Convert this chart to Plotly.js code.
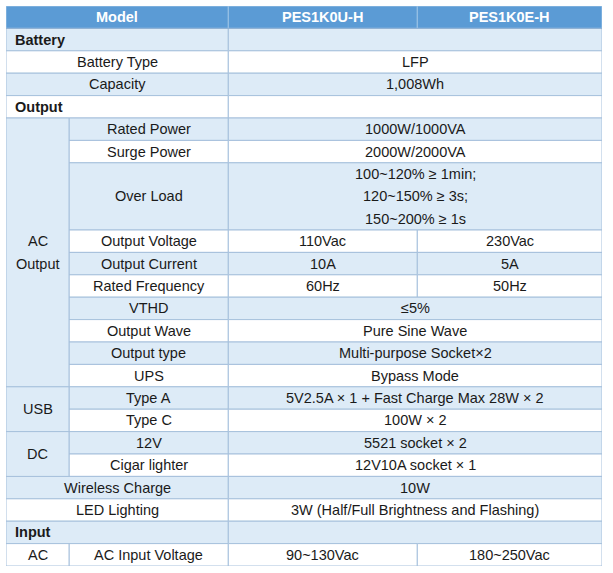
<!DOCTYPE html>
<html>
<head>
<meta charset="utf-8">
<script src="https://cdn.plot.ly/plotly-3.0.1.min.js"></script>
<style>html,body{margin:0;padding:0;background:#fff;}#chart{width:613px;height:573px;}</style>
</head>
<body>
<div id="chart"></div>
<script>
// ---- data ----
const headerLabels = ["Model", "PES1K0U-H", "PES1K0E-H"];
const itemLabels = ["Battery", "Battery Type", "Capacity", "Output", "Rated Power", "Surge Power", "Over Load",
  "Output Voltage", "Output Current", "Rated Frequency", "VTHD", "Output Wave", "Output type", "UPS",
  "Type A", "Type C", "12V", "Cigar lighter", "Wireless Charge", "LED Lighting", "Input", "AC Input Voltage"];
const sectionRows = ["Battery", "Output", "Input"];
const valuesU = ["", "LFP", "1,008Wh", "", "1000W/1000VA", "2000W/2000VA",
  "100~120% ≥ 1min;<br>120~150% ≥ 3s;<br>150~200% ≥ 1s",
  "110Vac", "10A", "60Hz", "≤5%", "Pure Sine Wave", "Multi-purpose Socket×2", "Bypass Mode",
  "5V2.5A × 1 + Fast Charge Max 28W × 2", "100W × 2", "5521 socket × 2", "12V10A socket × 1", "10W",
  "3W (Half/Full Brightness and Flashing)", "", "90~130Vac"];
const valuesE = ["", "LFP", "1,008Wh", "", "1000W/1000VA", "2000W/2000VA",
  "100~120% ≥ 1min;<br>120~150% ≥ 3s;<br>150~200% ≥ 1s",
  "230Vac", "5A", "50Hz", "≤5%", "Pure Sine Wave", "Multi-purpose Socket×2", "Bypass Mode",
  "5V2.5A × 1 + Fast Charge Max 28W × 2", "100W × 2", "5521 socket × 2", "12V10A socket × 1", "10W",
  "3W (Half/Full Brightness and Flashing)", "", "180~250Vac"];
const groupNames = ["AC<br>Output", "USB", "DC", "AC"];
const groupFirstRow = ["Rated Power", "Type A", "12V", "AC Input Voltage"];
const groupLastRow = ["UPS", "Type C", "Cigar lighter", "AC Input Voltage"];

// ---- layout constants (style) ----
const colEdges = [0, 63, 222.3, 411.3, 596];
const FONT = "Liberation Sans, Arial, sans-serif";
const FS = 14.5;
const headFill = "#5B9BD5", lightFill = "#DDEBF7", whiteFill = "#FFFFFF";
const border = "#A6C0DC", headSep = "#9DC3E6";
const txt = "#1a1a1a";

// ---- build ----
const shapes = [], annotations = [];
function cell(c0, c1, r0, r1, fill, lc) {
  shapes.push({type: "rect", xref: "x", yref: "y", x0: colEdges[c0], x1: colEdges[c1], y0: r0, y1: r1,
    fillcolor: fill, line: {color: lc || border, width: 1}, layer: "below"});
}
function text(t, x, y, opts) {
  opts = opts || {};
  annotations.push({text: t, x: x, y: y, xref: "x", yref: "y", showarrow: false,
    xanchor: opts.anchor || "center", yanchor: "middle",
    font: {family: FONT, size: FS, color: opts.color || txt, weight: opts.bold ? "bold" : "normal"}});
}
function multiline(t, xc, r0, r1, opts) {
  const lines = t.split("<br>");
  const mid = (r0 + r1) / 2;
  lines.forEach((ln, i) => text(ln, xc, mid + (i - (lines.length - 1) / 2), opts));
}
const mid = (a, b) => (colEdges[a] + colEdges[b]) / 2;

// header
cell(0, 2, 0, 1, headFill, headSep);
cell(2, 3, 0, 1, headFill, headSep);
cell(3, 4, 0, 1, headFill, headSep);
shapes.push({type: "line", xref: "x", yref: "y", x0: colEdges[0], x1: colEdges[4], y0: 1, y1: 1,
  line: {color: "#8FB0D3", width: 1}});
text(headerLabels[0], mid(0, 2), 0.5, {bold: true, color: "#fff"});
text(headerLabels[1], mid(2, 3), 0.5, {bold: true, color: "#fff"});
text(headerLabels[2], mid(3, 4), 0.5, {bold: true, color: "#fff"});

// rows
const rowStart = [];
let y = 1;
itemLabels.forEach((lab, i) => {
  const n = valuesU[i].split("<br>").length;
  rowStart.push(y);
  const fill = i % 2 === 0 ? lightFill : whiteFill;
  const r0 = y, r1 = y + n;
  const gi = groupFirstRow.findIndex(g => itemLabels.indexOf(g) <= i && itemLabels.indexOf(groupLastRow[groupFirstRow.indexOf(g)]) >= i);
  if (sectionRows.includes(lab)) {
    cell(0, 2, r0, r1, fill);
    text(lab, colEdges[0] + 6.5, (r0 + r1) / 2, {bold: true, anchor: "left"});
  } else if (gi >= 0) {
    cell(1, 2, r0, r1, fill);
    text(lab, mid(1, 2), (r0 + r1) / 2);
  } else {
    cell(0, 2, r0, r1, fill);
    text(lab, mid(0, 2), (r0 + r1) / 2);
  }
  if (valuesU[i] === valuesE[i]) {
    cell(2, 4, r0, r1, fill);
    if (valuesU[i]) multiline(valuesU[i], mid(2, 4), r0, r1);
  } else {
    cell(2, 3, r0, r1, fill);
    cell(3, 4, r0, r1, fill);
    multiline(valuesU[i], mid(2, 3), r0, r1);
    multiline(valuesE[i], mid(3, 4), r0, r1);
  }
  y = r1;
});
const totalRows = y;

// group cells
groupNames.forEach((g, k) => {
  const a = itemLabels.indexOf(groupFirstRow[k]);
  const b = itemLabels.indexOf(groupLastRow[k]);
  const r0 = rowStart[a];
  const r1 = rowStart[b] + valuesU[b].split("<br>").length;
  const fill = a % 2 === 0 ? lightFill : whiteFill;
  cell(0, 1, r0, r1, fill);
  multiline(g, mid(0, 1), r0, r1);
});

const layout = {
  width: 613, height: 573,
  margin: {l: 6, r: 11, t: 6, b: 7, pad: 0},
  paper_bgcolor: "#fff", plot_bgcolor: "#fff",
  showlegend: false,
  xaxis: {range: [colEdges[0], colEdges[4]], visible: false, fixedrange: true},
  yaxis: {range: [totalRows, 0], visible: false, fixedrange: true},
  shapes: shapes,
  annotations: annotations
};
Plotly.newPlot("chart", [{type: "scatter", x: [], y: [], hoverinfo: "skip"}], layout, {displayModeBar: false, staticPlot: true});
</script>
</body>
</html>
